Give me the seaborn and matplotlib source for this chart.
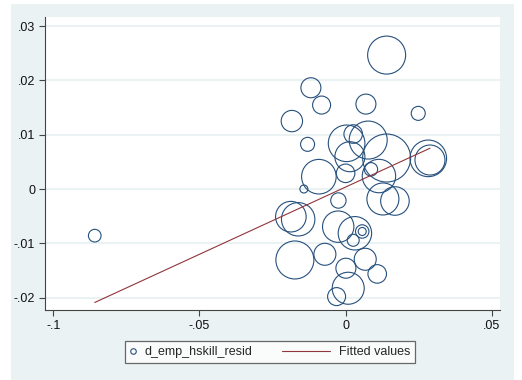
import numpy as np
import pandas as pd
import matplotlib
matplotlib.use("Agg")
import matplotlib.pyplot as plt
from matplotlib.lines import Line2D
from matplotlib.patches import Rectangle
from matplotlib.legend_handler import HandlerLine2D
import seaborn as sns

# residuals
x_resid = [0.01403, -0.01187, -0.00821, 0.00695, 0.02484, -0.01838, -0.0130, 0.00034,
           0.0026, 0.00773, 0.01403, 0.02885, 0.02827, -0.00914, 0.0, 0.00147,
           0.00866, 0.0114, -0.01427, 0.01276, 0.01687, -0.00246, -0.01872, -0.01622,
           -0.08579, -0.00253, 0.00318, 0.00568, 0.00568, 0.0026, -0.01735, -0.00708,
           0.00671, 0.0001, 0.01081, 0.00089, -0.00308]
y_resid = [0.02468, 0.01866, 0.01547, 0.01565, 0.01394, 0.01252, 0.00823, 0.00842,
           0.01013, 0.00902, 0.00571, 0.00534, 0.00565, 0.00227, 0.00289, 0.00595,
           0.00363, 0.00239, 0.0, -0.00184, -0.00221, -0.00212, -0.0051, -0.00558,
           -0.0086, -0.00694, -0.00816, -0.00783, -0.00783, -0.00945, -0.01308, -0.01203,
           -0.01295, -0.0146, -0.01565, -0.01829, -0.01983]
weights = [361, 100, 81, 100, 49, 114, 49, 335, 86, 361, 576, 225, 335, 299, 86, 225,
           45, 279, 16, 256, 204, 59, 234, 279, 40, 246, 279, 45, 16, 36, 361, 121,
           121, 100, 86, 256, 81]

fit_slope = 0.248
fit_intercept = 0.00036

x_ticks = [-0.1, -0.05, 0, 0.05]
x_labels = ["-.1", "-.05", "0", ".05"]
y_ticks = [-0.02, -0.01, 0, 0.01, 0.02, 0.03]
y_labels = ["-.02", "-.01", "0", ".01", ".02", ".03"]

navy = "#26507c"
maroon = "#90353b"
bg = "#eaf2f3"


class LongLine(HandlerLine2D):
    # draw the fitted-values sample longer than the legend handle box
    ext = 30.0

    def get_xdata(self, legend, xdescent, ydescent, width, height, fontsize):
        xdata = np.array([-xdescent - self.ext, -xdescent + width])
        return xdata, xdata


sns.set_style("ticks")
plt.rcParams["font.family"] = ["Liberation Sans", "DejaVu Sans"]

df = pd.DataFrame({"x": x_resid, "y": y_resid, "w": weights})

fig = plt.figure(figsize=(5.22, 3.80), dpi=100)
fig.patches.append(Rectangle((11 / 522, 0), 503 / 522, 376 / 380,
                             transform=fig.transFigure, facecolor=bg,
                             edgecolor="none", zorder=-10))
ax = fig.add_axes([45 / 522, 70 / 380, 455 / 522, 293 / 380])
ax.set_facecolor("white")

k = 1.44 ** 2
wmin, wmax = min(weights), max(weights)
sns.scatterplot(data=df, x="x", y="y", size="w", sizes=(wmin * k, wmax * k),
                size_norm=(wmin, wmax), facecolor="none", edgecolor=navy,
                linewidth=0.8, legend=False, ax=ax, zorder=3)

xs = np.array([df["x"].min(), df["x"].max()])
sns.lineplot(x=xs, y=fit_intercept + fit_slope * xs, color=maroon, linewidth=0.8,
             ax=ax, zorder=4)

ax.set_xlim(-0.1028, 0.0528)
ax.set_ylim(-0.0223, 0.0317)
ax.set_xticks(x_ticks)
ax.set_xticklabels(x_labels)
ax.set_yticks(y_ticks)
ax.set_yticklabels(y_labels)
for yv in y_ticks:
    ax.axhline(yv, color=bg, linewidth=1.5, zorder=1)
ax.set_xlabel("")
ax.set_ylabel("")
for side in ["top", "right"]:
    ax.spines[side].set_visible(False)
for side in ["left", "bottom"]:
    ax.spines[side].set_color("#444444")
    ax.spines[side].set_linewidth(0.8)
ax.tick_params(axis="both", length=4, width=0.8, color="#444444",
               labelsize=9, labelcolor="#111111", pad=3)

dot = Line2D([], [], marker="o", linestyle="none", markerfacecolor="none",
             markeredgecolor=navy, markersize=4, markeredgewidth=0.8)
fit_line = Line2D([], [], color=maroon, linewidth=0.8)
leg = fig.legend([dot, fit_line], ["d_emp_hskill_resid", "Fitted values"],
                 loc="center", bbox_to_anchor=(270 / 522, 1 - 352 / 380), ncol=2,
                 fontsize=9, frameon=True, fancybox=False, edgecolor="#444444",
                 handlelength=0.5, handletextpad=0.7, columnspacing=5.7,
                 borderpad=0.4, handler_map={fit_line: LongLine()})
leg.get_frame().set_linewidth(0.9)

fig.savefig("out.png", dpi=100)
